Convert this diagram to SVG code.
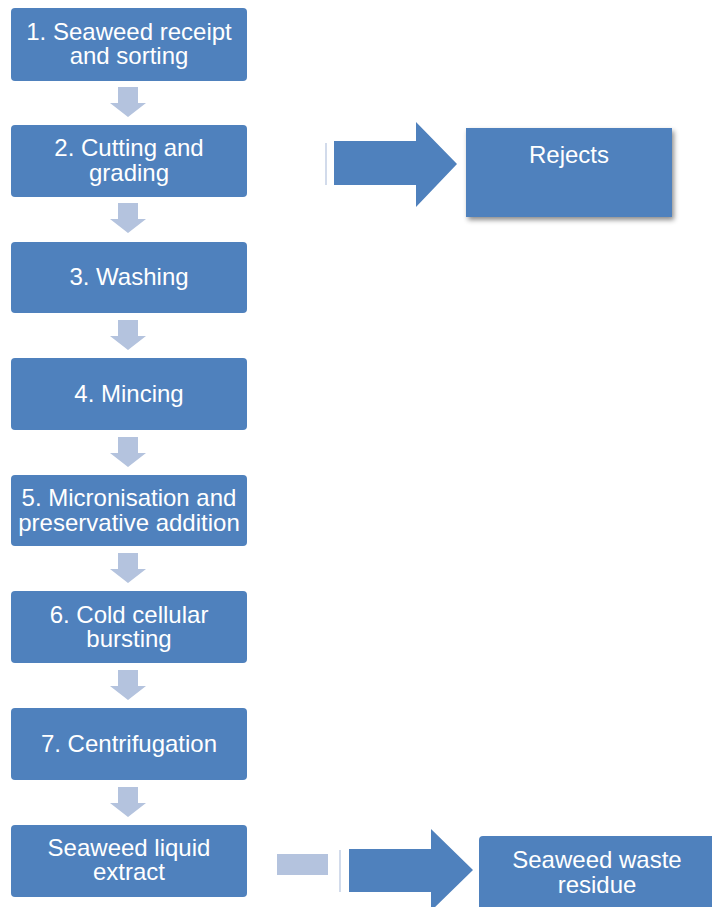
<svg xmlns="http://www.w3.org/2000/svg" width="712" height="907" viewBox="0 0 712 907">
<style>
.box{fill:#4f81bd}
.t{font-family:"Liberation Sans",Arial,sans-serif;font-size:24px;fill:#fff;text-anchor:middle}
.down{fill:#b4c3de}
.big{fill:#4f81bd}
.thin{stroke:#b4c3de;stroke-width:1.2}
</style>
<defs>
<filter id="sh" x="-10%" y="-10%" width="130%" height="130%">
<feDropShadow dx="2" dy="3" stdDeviation="2.5" flood-color="#000" flood-opacity="0.45"/>
</filter>
<path id="dn" d="M7 0 H27 V16 H35 L17 30 L-1 16 H7 Z"/>
</defs>
<g id="connectors">
<use href="#dn" class="down" x="111" y="87"/>
<use href="#dn" class="down" x="111" y="203"/>
<use href="#dn" class="down" x="111" y="320"/>
<use href="#dn" class="down" x="111" y="437"/>
<use href="#dn" class="down" x="111" y="553"/>
<use href="#dn" class="down" x="111" y="670"/>
<use href="#dn" class="down" x="111" y="787"/>
<line class="thin" x1="326" y1="143" x2="326" y2="185"/>
<path class="big" d="M334 141 H416 V122 L457 164 L416 207 V185 H334 Z"/>
<rect class="down" x="277" y="854" width="51" height="21"/>
<line class="thin" x1="340" y1="850" x2="340" y2="892"/>
<path class="big" d="M349 849 H431 V829 L473 870 L431 911 V892 H349 Z"/>
</g>
<g id="n1"><rect class="box" x="11" y="8" width="236" height="73" rx="4"/><text class="t" x="129" y="40">1. Seaweed receipt</text><text class="t" x="129" y="64">and sorting</text></g>
<g id="n2"><rect class="box" x="11" y="125" width="236" height="72" rx="4"/><text class="t" x="129" y="156">2. Cutting and</text><text class="t" x="129" y="181">grading</text></g>
<g id="n3"><rect class="box" x="11" y="242" width="236" height="71" rx="4"/><text class="t" x="129" y="285">3. Washing</text></g>
<g id="n4"><rect class="box" x="11" y="358" width="236" height="72" rx="4"/><text class="t" x="129" y="402">4. Mincing</text></g>
<g id="n5"><rect class="box" x="11" y="475" width="236" height="71" rx="4"/><text class="t" x="129" y="506">5. Micronisation and</text><text class="t" x="129" y="531">preservative addition</text></g>
<g id="n6"><rect class="box" x="11" y="591" width="236" height="72" rx="4"/><text class="t" x="129" y="623">6. Cold cellular</text><text class="t" x="129" y="647">bursting</text></g>
<g id="n7"><rect class="box" x="11" y="708" width="236" height="72" rx="4"/><text class="t" x="129" y="752">7. Centrifugation</text></g>
<g id="n8"><rect class="box" x="11" y="825" width="236" height="72" rx="4"/><text class="t" x="129" y="856">Seaweed liquid</text><text class="t" x="129" y="880">extract</text></g>
<g id="rejects"><rect class="box" x="466" y="128" width="206" height="89" filter="url(#sh)"/><text class="t" x="569" y="163">Rejects</text></g>
<g id="waste"><rect class="box" x="479" y="836" width="240" height="80" rx="4"/><text class="t" x="597" y="868">Seaweed waste</text><text class="t" x="597" y="893">residue</text></g>
</svg>
